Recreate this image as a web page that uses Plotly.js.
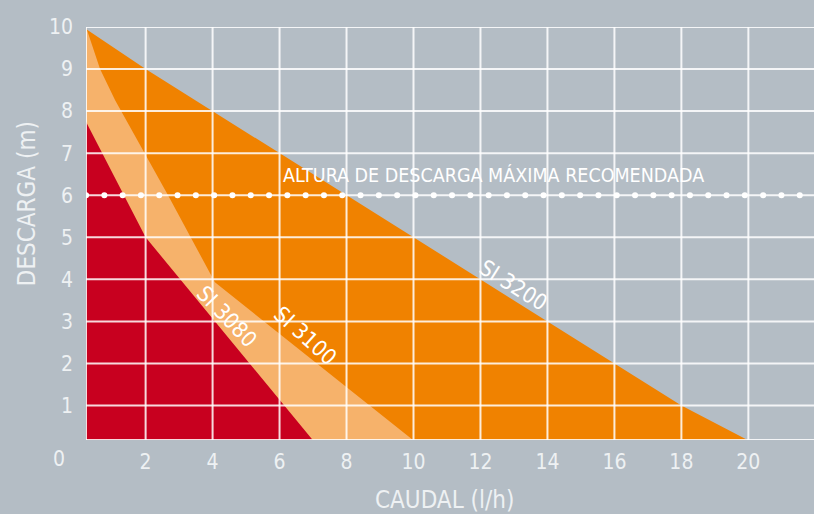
<!DOCTYPE html>
<html><head><meta charset="utf-8">
<script src="https://cdn.plot.ly/plotly-3.0.1.min.js"></script>
<style>
html,body{margin:0;padding:0;background:#b4bdc5;}
#chart{width:814px;height:514px;}
.js-line{stroke-linecap:round;}
</style></head><body><div id="chart"></div>
<script>
// Tick labels
const xTicks = [2, 4, 6, 8, 10, 12, 14, 16, 18, 20];
const yTicks = [1, 2, 3, 4, 5, 6, 7, 8, 9, 10];
// Series (caudal l/h, descarga m)
const si3200X = [0.22, 2, 18, 20];
const si3200Y = [9.95, 9, 1, 0.17];
const si3100X = [0.22, 0.64, 1.09, 2.67, 4.07, 10];
const si3100Y = [10, 9, 8.26, 6, 3.93, 0.17];
const si3080X = [0.22, 2, 7];
const si3080Y = [7.75, 5, 0.17];
const recommendedMax = 6;
const xRange = [0.22, 21.96];
const yRange = [0.18, 10];

const BG = '#b4bdc5';
const TXT = '#eef1f3';
const COND = 'DejaVu Sans Condensed, DejaVu Sans, sans-serif';
const tickFont = {family: COND, size: 21, color: TXT};

const area = (x, y, color, name) => ({
  x: x, y: y, name: name, type: 'scatter', mode: 'lines',
  fill: 'tozeroy', fillcolor: color, line: {width: 0, color: color},
  hoverinfo: 'skip', showlegend: false
});

const traces = [
  area(si3200X, si3200Y, '#f08200', 'SI 3200'),
  area(si3100X, si3100Y, '#f6b26b', 'SI 3100'),
  area(si3080X, si3080Y, '#c8001f', 'SI 3080'),
  {x: xRange, y: [recommendedMax, recommendedMax], type: 'scatter', mode: 'lines',
   line: {color: '#ffffff', width: 6, dash: '0.1px,18.2px'}, hoverinfo: 'skip', showlegend: false}
];

const gridColor = 'rgba(255,255,255,0.85)';
const shapes = [];
[xRange[0]].concat(xTicks).forEach(t => shapes.push({type: 'line', xref: 'x', yref: 'paper', x0: t, x1: t, y0: 0, y1: 1, layer: 'above', line: {color: gridColor, width: 2}}));
[yRange[0]].concat(yTicks).forEach(t => shapes.push({type: 'line', xref: 'paper', yref: 'y', x0: 0, x1: 1, y0: t, y1: t, layer: 'above', line: {color: gridColor, width: 2}}));

const ann = (text, x, y, angle, size) => ({text: text, x: x, y: y, xref: 'x', yref: 'y', textangle: angle, showarrow: false,
  xanchor: 'center', yanchor: 'middle', font: {family: COND, size: size, color: '#ffffff'}});
const pap = (text, x, y, angle, font) => ({text: text, x: x, y: y, xref: 'paper', yref: 'paper', textangle: angle, showarrow: false,
  xanchor: 'center', yanchor: 'middle', font: font});

const layout = {
  width: 814, height: 514,
  margin: {l: 86, r: 0, t: 27, b: 74},
  paper_bgcolor: BG, plot_bgcolor: BG,
  xaxis: {range: xRange, tickvals: xTicks, ticktext: xTicks.map(String), showgrid: false, zeroline: false, showline: false,
          ticks: '', tickfont: tickFont, ticklabelstandoff: 7, fixedrange: true},
  yaxis: {range: yRange, tickvals: yTicks, ticktext: yTicks.map(String), showgrid: false, zeroline: false, showline: false,
          ticks: '', tickfont: tickFont, ticklabelstandoff: 12, fixedrange: true},
  shapes: shapes,
  annotations: [
    ann('ALTURA DE DESCARGA MÁXIMA RECOMENDADA', 12.4, 6.48, 0, 19.5),
    ann('SI 3200', 13.0, 3.86, 32, 22),
    ann('SI 3100', 6.76, 2.67, 42, 22),
    ann('SI 3080', 4.42, 3.11, 46, 22),
    pap('0', -0.037, -0.046, 0, tickFont),
    pap('CAUDAL (l/h)', 0.4924, -0.145, 0, {family: COND, size: 24, color: TXT}),
    pap('DESCARGA (m)', -0.081, 0.571, -90, {family: COND, size: 24, color: TXT})
  ],
  showlegend: false
};

Plotly.newPlot('chart', traces, layout, {staticPlot: true, displayModeBar: false});
</script></body></html>
